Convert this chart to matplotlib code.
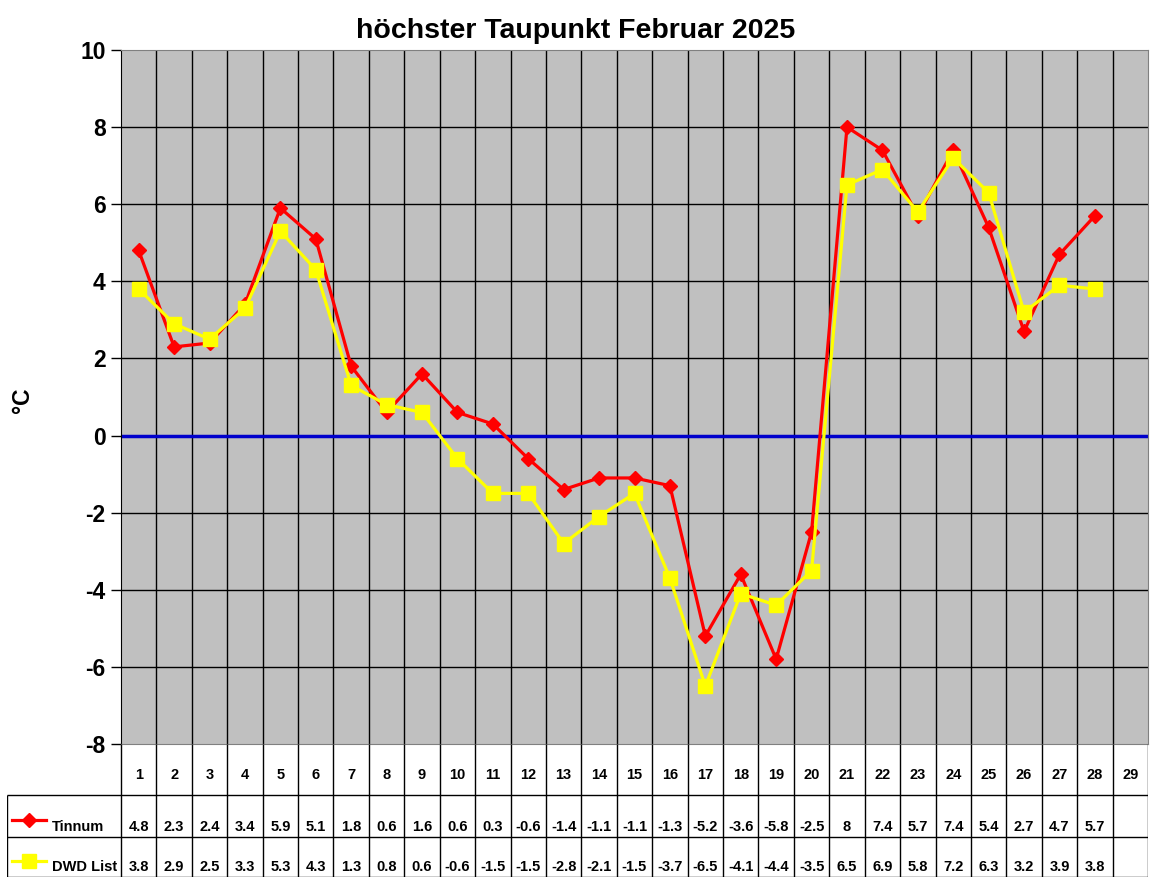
import matplotlib.pyplot as plt
import numpy as np

days = list(range(1, 30))
tinnum = [4.8, 2.3, 2.4, 3.4, 5.9, 5.1, 1.8, 0.6, 1.6, 0.6, 0.3, -0.6, -1.4, -1.1,
          -1.1, -1.3, -5.2, -3.6, -5.8, -2.5, 8, 7.4, 5.7, 7.4, 5.4, 2.7, 4.7, 5.7]
dwd = [3.8, 2.9, 2.5, 3.3, 5.3, 4.3, 1.3, 0.8, 0.6, -0.6, -1.5, -1.5, -2.8, -2.1,
       -1.5, -3.7, -6.5, -4.1, -4.4, -3.5, 6.5, 6.9, 5.8, 7.2, 6.3, 3.2, 3.9, 3.8]
series_names = ['Tinnum', 'DWD List']
yticks = list(range(-8, 11, 2))

W, H = 1152, 882
fig = plt.figure(figsize=(W / 100, H / 100), dpi=100)
plt.rcParams['font.family'] = ['Liberation Sans', 'DejaVu Sans']

# plot area in pixels
L, R, T, B = 121, 1148, 50, 744
ax = fig.add_axes([L / W, 1 - B / H, (R - L) / W, (B - T) / H])
ax.set_facecolor('#C0C0C0')
ax.set_xlim(0.5, 29.5)
ax.set_ylim(-8, 10)
for xv in np.arange(1.5, 29.5, 1):
    ax.axvline(xv, color='black', lw=1, zorder=1)
for yv in yticks[1:-1]:
    ax.axhline(yv, color='black', lw=1, zorder=1)
ax.axhline(0, color='#0000CC', lw=2.5, zorder=2)

x = days[:len(tinnum)]
ax.plot(x, tinnum, color='#FF0000', lw=2.3, marker='D', ms=7.5, zorder=3)
ax.plot(x, dwd, color='#FFFF00', lw=2.3, marker='s', ms=10, zorder=4)

ax.set_xticks([])
ax.set_yticks(yticks)
ax.set_yticklabels([str(v) for v in yticks], fontsize=16.5, fontweight='bold')
ax.tick_params(axis='y', length=7, width=1, direction='out', pad=4)
for s in ax.spines.values():
    s.set_color('#808080')
ax.spines['left'].set_color('black')
fig.text(23 / W, 1 - 400 / H, '°C', rotation=90, ha='center', va='center',
         fontsize=16.5, fontweight='bold')
fig.text(0.5, 1 - 31 / H, 'höchster Taupunkt Februar 2025', ha='center', va='center',
         fontsize=20.5, fontweight='bold')

# data table below the plot
TL, TB = 7, 877
tab = fig.add_axes([TL / W, 1 - TB / H, (R - TL) / W, (TB - B) / H])
ppu = (R - L) / 29
tab.set_xlim(0.5 - (L - TL) / ppu, 29.5)
tab.set_ylim(TB - B, 0)
tab.axis('off')
rows = [0, 795 - B, 837 - B, TB - B]
k = dict(color='black', lw=1, solid_capstyle='butt')
for xv in np.arange(0.5, 30.5, 1):
    tab.plot([xv, xv], [rows[0], rows[3]], **k)
x0 = tab.get_xlim()[0]
for yv in rows[1:]:
    tab.plot([x0, 29.5], [yv, yv], **k)
tab.plot([x0, x0], [rows[1], rows[3]], **k)

for d in days:
    tab.text(d, 31, str(d), ha='center', va='center', fontsize=10.5, fontweight='bold')

def fmt(v):
    return str(int(v)) if float(v).is_integer() else f'{v:.1f}'

for vals, ytxt in [(tinnum, 83), (dwd, 123)]:
    for d, v in zip(days, vals):
        tab.text(d, ytxt, fmt(v), ha='center', va='center', fontsize=10.5, fontweight='bold')

lx = x0 + 5 / ppu
tab.plot([lx, lx + 34 / ppu], [76, 76], color='#FF0000', lw=2.3)
tab.plot([lx + 17 / ppu], [76], color='#FF0000', marker='D', ms=7.5)
tab.plot([lx, lx + 34 / ppu], [117, 117], color='#FFFF00', lw=2.3)
tab.plot([lx + 17 / ppu], [117], color='#FFFF00', marker='s', ms=10)
tab.text(x0 + 45 / ppu, 83, series_names[0], ha='left', va='center', fontsize=10.5, fontweight='bold')
tab.text(x0 + 45 / ppu, 123, series_names[1], ha='left', va='center', fontsize=10.5, fontweight='bold')

fig.savefig('out.png', dpi=100)
